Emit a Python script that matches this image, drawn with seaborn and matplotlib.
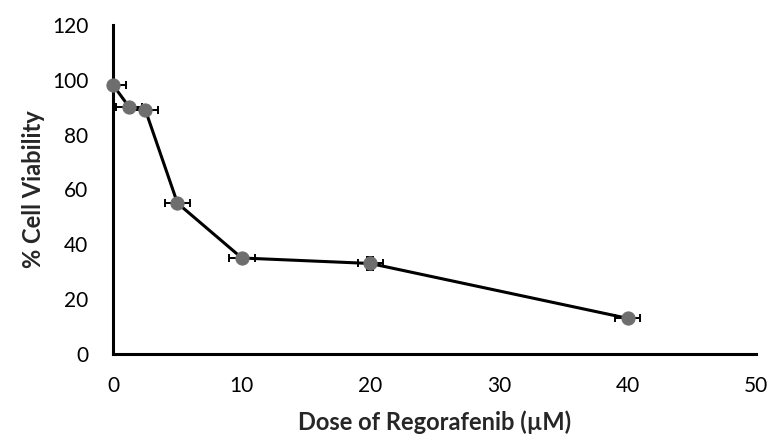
import matplotlib
matplotlib.use("Agg")
import matplotlib.pyplot as plt
import seaborn as sns
import pandas as pd

dose = [0, 1.25, 2.5, 5, 10, 20, 40]
viability = [98, 90, 89, 55, 35, 33, 13]
dose_err = [1.0, 1.0, 1.0, 1.0, 1.0, 1.0, 1.0]
viab_err = [0.8, 0.8, 0.8, 0.8, 1.5, 2.5, 0.8]
x_ticks = [0, 10, 20, 30, 40, 50]
y_ticks = [0, 20, 40, 60, 80, 100, 120]

sns.set_style("white")
plt.rcParams['font.family'] = ['Lato', 'DejaVu Sans']

df = pd.DataFrame({"dose": dose, "viability": viability})

fig = plt.figure(figsize=(7.7, 4.37), dpi=100)
ax = fig.add_axes([0.147, 0.19, 0.835, 0.753])

ax.errorbar(dose, viability, xerr=dose_err, yerr=viab_err, fmt='none',
            ecolor='black', elinewidth=1.4, capsize=2.8, capthick=1.4, zorder=2)
sns.lineplot(data=df, x="dose", y="viability", ax=ax, color='black',
             linewidth=2.2, marker='o', markersize=9.5,
             markerfacecolor='#6e6e6e', markeredgecolor='#6e6e6e', zorder=4)
ax.lines[-1].set_clip_on(False)

ax.set_xlim(0, 50)
ax.set_ylim(0, 120)
ax.set_xticks(x_ticks)
ax.set_yticks(y_ticks)
ax.tick_params(axis='both', direction='out', length=6, width=2, labelsize=15,
               color='black', labelcolor='black')
ax.tick_params(axis='y', pad=12)
ax.tick_params(axis='x', pad=10)
for side in ['top', 'right']:
    ax.spines[side].set_visible(False)
for side in ['left', 'bottom']:
    ax.spines[side].set_color('black')
    ax.spines[side].set_linewidth(2.2)
ax.set_xlabel("Dose of Regorafenib (µM)", fontsize=17, fontweight='bold', labelpad=10)
ax.set_ylabel("% Cell Viability", fontsize=17, fontweight='bold', labelpad=5)

fig.savefig("out.png", dpi=100)
